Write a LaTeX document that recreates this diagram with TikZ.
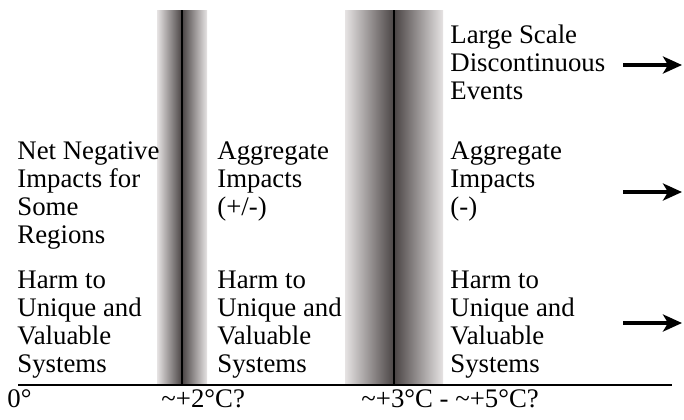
\documentclass[tikz,border=0pt]{standalone}
\usepackage{fontspec}
\setmainfont{Liberation Serif}
\usetikzlibrary{arrows.meta,positioning}
\definecolor{fg}{RGB}{0,0,0}
\definecolor{barlight}{RGB}{230,227,227}
\definecolor{bardark}{RGB}{74,68,68}
\tikzset{
  every picture/.style={fg, line cap=butt,
    >={Stealth[length=9.5pt,width=8.5pt,inset=2.5pt]}},
  every node/.style={font=\fontsize{13.4}{14}\selectfont, inner sep=0pt},
  % text blocks
  txt/.style={anchor=north west, align=left},
  tick/.style={anchor=base west},
  % lines
  axisline/.style={line width=1.1pt},
  core/.style={line width=1.3pt},
  trend/.style={line width=2pt, ->},
}

\begin{document}
\begin{tikzpicture}[x=0.5pt, y=-0.5pt]
  \useasboundingbox (0,0) rectangle (684,419);
  % shaded thresholds
  \foreach \cx/\hw in {182/25, 394/49} {
    \shade[left color=barlight, right color=bardark] (\cx-\hw,10) rectangle (\cx,385);
    \shade[left color=bardark, right color=barlight] (\cx,10) rectangle (\cx+\hw,385);
    \draw[core] (\cx,10) -- (\cx,385);
  }
  % temperature axis
  \coordinate (ax0) at (18,385);
  \coordinate (ax1) at (672,385);
  \draw[axisline] (ax0) -- (ax1);
  \node[tick] (t0) at (7,407) {0°};
  \node[tick] (t2) at (161,407) {\textasciitilde+2°C?};
  \node[tick] (t35) at (361,407) {\textasciitilde+3°C - \textasciitilde+5°C?};
  % impact columns
  \node[txt] (negreg) at (17,141) {Net Negative\\Impacts for\\Some\\Regions};
  \node[txt] (harmA) at (17,271) {Harm to\\Unique and\\Valuable\\Systems};
  \node[txt] (aggmix) at (217,141) {Aggregate\\Impacts\\(+/-)};
  \node[txt] (harmB) at (217,271) {Harm to\\Unique and\\Valuable\\Systems};
  \node[txt] (large) at (450,24) {Large Scale\\Discontinuous\\Events};
  \node[txt] (aggneg) at (450,141) {Aggregate\\Impacts\\(-)};
  \node[txt] (harmC) at (450,271) {Harm to\\Unique and\\Valuable\\Systems};
  % rising trends
  \foreach \n/\y in {1/65, 2/192, 3/323} {
    \coordinate (s\n) at (623,\y);
    \coordinate (e\n) at (682,\y);
    \draw[trend] (s\n) -- (e\n);
  }
\end{tikzpicture}
\end{document}
